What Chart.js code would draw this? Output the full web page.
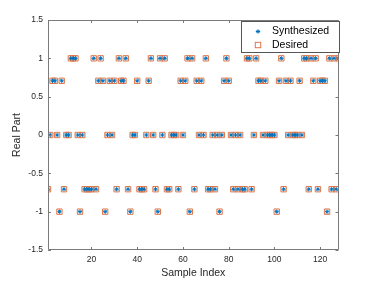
<!DOCTYPE html>
<html>
<head>
<meta charset="utf-8">
<script src="https://cdn.jsdelivr.net/npm/chart.js@4.4.1/dist/chart.umd.min.js"></script>
<style>
  html, body { margin: 0; padding: 0; background: #fff; }
  #wrap { width: 374px; height: 283px; }
</style>
</head>
<body>
<div id="wrap"><canvas id="chart" width="374" height="283"></canvas></div>
<script>
const sampleIndex = [
    1, 2, 3, 4, 5, 6, 7, 8, 9, 10, 11, 12, 13, 14, 15, 16,
    17, 18, 19, 20, 21, 22, 23, 24, 25, 26, 27, 28, 29, 30, 31, 32,
    33, 34, 35, 36, 37, 38, 39, 40, 41, 42, 43, 44, 45, 46, 47, 48,
    49, 50, 51, 52, 53, 54, 55, 56, 57, 58, 59, 60, 61, 62, 63, 64,
    65, 66, 67, 68, 69, 70, 71, 72, 73, 74, 75, 76, 77, 78, 79, 80,
    81, 82, 83, 84, 85, 86, 87, 88, 89, 90, 91, 92, 93, 94, 95, 96,
    97, 98, 99, 100, 101, 102, 103, 104, 105, 106, 107, 108, 109, 110, 111, 112,
    113, 114, 115, 116, 117, 118, 119, 120, 121, 122, 123, 124, 125, 126, 127, 128
];

const desired = [
    -0.7071, 0, 0.7071, 0.7071, 0, -1, 0.7071, -0.7071, 0, 0, 1, 1, 1, 0, -1, 0,
    -0.7071, -0.7071, -0.7071, -0.7071, 1, -0.7071, 0.7071, 1, 0.7071, -1, 0, 0.7071, 0, 0.7071, -0.7071, 1,
    0.7071, 0.7071, 1, -0.7071, -1, 0, 0, 0.7071, -0.7071, -0.7071, -0.7071, 0, 0.7071, 1, 0, -0.7071,
    -1, 1, 0, 1, -0.7071, -0.7071, 0, 0, 0, -0.7071, 0.7071, 0, 0.7071, 1, -1, 1,
    -0.7071, 0.7071, 0, 0.7071, 0, 1, -0.7071, -0.7071, 0, -0.7071, 0, -1, 0, 0.7071, 1, 0.7071,
    0, -0.7071, 0, -0.7071, 0, -0.7071, -0.7071, 1, 1, -0.7071, 0, 1, 0.7071, 0.7071, 0, 0.7071,
    0, 0, 0, 0, -1, 0.7071, 1, -0.7071, 0.7071, 0, 0.7071, 0, 0, 0, 0.7071, 0,
    1, 1, -0.7071, 1, 0.7071, 1, -0.7071, 0.7071, 0.7071, 0.7071, -1, 1, -0.7071, 1, -0.7071, 1
];

// the synthesized samples sit exactly on the desired ones
const synthesized = [
    -0.7071, 0, 0.7071, 0.7071, 0, -1, 0.7071, -0.7071, 0, 0, 1, 1, 1, 0, -1, 0,
    -0.7071, -0.7071, -0.7071, -0.7071, 1, -0.7071, 0.7071, 1, 0.7071, -1, 0, 0.7071, 0, 0.7071, -0.7071, 1,
    0.7071, 0.7071, 1, -0.7071, -1, 0, 0, 0.7071, -0.7071, -0.7071, -0.7071, 0, 0.7071, 1, 0, -0.7071,
    -1, 1, 0, 1, -0.7071, -0.7071, 0, 0, 0, -0.7071, 0.7071, 0, 0.7071, 1, -1, 1,
    -0.7071, 0.7071, 0, 0.7071, 0, 1, -0.7071, -0.7071, 0, -0.7071, 0, -1, 0, 0.7071, 1, 0.7071,
    0, -0.7071, 0, -0.7071, 0, -0.7071, -0.7071, 1, 1, -0.7071, 0, 1, 0.7071, 0.7071, 0, 0.7071,
    0, 0, 0, 0, -1, 0.7071, 1, -0.7071, 0.7071, 0, 0.7071, 0, 0, 0, 0.7071, 0,
    1, 1, -0.7071, 1, 0.7071, 1, -0.7071, 0.7071, 0.7071, 0.7071, -1, 1, -0.7071, 1, -0.7071, 1
];

const xTicks = [20, 40, 60, 80, 100, 120];
const yTicks = [-1.5, -1, -0.5, 0, 0.5, 1, 1.5];
const yTickLabels = ['-1.5', '-1', '-0.5', '0', '0.5', '1', '1.5'];
const seriesNames = ['Synthesized', 'Desired'];
const xTitle = 'Sample Index';
const yTitle = 'Real Part';

const blue = '#0072BD';
const orange = '#E0774A';
const axisGray = '#262626';
const fontFamily = '"Liberation Sans", Arial, Helvetica, sans-serif';

const toPoints = values => values.map((v, i) => ({ x: sampleIndex[i], y: v }));

const matlabFrame = {
    id: 'matlabFrame',
    afterDatasetsDraw(chart) {
        const { ctx, chartArea: a, scales: { x, y } } = chart;
        const tick = 3;
        ctx.save();
        ctx.strokeStyle = '#7a7a7a';
        ctx.lineWidth = 1;
        ctx.beginPath();
        ctx.rect(Math.round(a.left) + 0.5, Math.round(a.top) + 0.5,
            Math.round(a.right - a.left) - 1, Math.round(a.bottom - a.top) - 1);
        xTicks.forEach(v => {
            const px = Math.round(x.getPixelForValue(v)) + 0.5;
            ctx.moveTo(px, a.bottom);
            ctx.lineTo(px, a.bottom - tick);
            ctx.moveTo(px, a.top);
            ctx.lineTo(px, a.top + tick);
        });
        yTicks.forEach(v => {
            const py = Math.round(y.getPixelForValue(v)) + 0.5;
            ctx.moveTo(a.left, py);
            ctx.lineTo(a.left + tick, py);
            ctx.moveTo(a.right, py);
            ctx.lineTo(a.right - tick, py);
        });
        ctx.stroke();
        ctx.restore();
    },
    afterDraw(chart) {
        const { ctx, chartArea: a } = chart;
        ctx.save();
        ctx.fillStyle = axisGray;
        ctx.font = `10.5px ${fontFamily}`;
        ctx.textAlign = 'center';
        ctx.textBaseline = 'middle';
        ctx.fillText(xTitle, (a.left + a.right) / 2, 273);
        ctx.translate(17, (a.top + a.bottom) / 2);
        ctx.rotate(-Math.PI / 2);
        ctx.fillText(yTitle, 0, 0);
        ctx.restore();

        // legend box, top right inside the axes
        const lx = 241.5, ly = 21.5, lw = 98, lh = 31;
        ctx.save();
        ctx.fillStyle = '#fff';
        ctx.fillRect(lx, ly, lw, lh);
        ctx.strokeStyle = '#555';
        ctx.lineWidth = 1;
        ctx.strokeRect(lx, ly, lw, lh);

        const mx = 258, rows = [31.5, 45];
        // asterisk
        ctx.strokeStyle = blue;
        ctx.beginPath();
        const r = 2.2;
        ctx.moveTo(mx - r, rows[0]); ctx.lineTo(mx + r, rows[0]);
        ctx.moveTo(mx, rows[0] - r); ctx.lineTo(mx, rows[0] + r);
        ctx.moveTo(mx - r * 0.7, rows[0] - r * 0.7); ctx.lineTo(mx + r * 0.7, rows[0] + r * 0.7);
        ctx.moveTo(mx - r * 0.7, rows[0] + r * 0.7); ctx.lineTo(mx + r * 0.7, rows[0] - r * 0.7);
        ctx.stroke();
        // square
        ctx.strokeStyle = orange;
        ctx.strokeRect(mx - 2.7, rows[1] - 2.7, 5.4, 5.4);

        ctx.fillStyle = '#000';
        ctx.font = `10.5px ${fontFamily}`;
        ctx.textAlign = 'left';
        ctx.textBaseline = 'middle';
        ctx.fillText(seriesNames[0], 272, rows[0]);
        ctx.fillText(seriesNames[1], 272, rows[1]);
        ctx.restore();
    }
};

new Chart(document.getElementById('chart'), {
    type: 'scatter',
    data: {
        datasets: [
            {
                label: seriesNames[0],
                data: toPoints(synthesized),
                pointStyle: 'star',
                pointRadius: 2.1,
                borderColor: blue,
                backgroundColor: blue,
                pointBorderWidth: 1,
                showLine: false
            },
            {
                label: seriesNames[1],
                data: toPoints(desired),
                pointStyle: 'rect',
                pointRadius: 3.8,
                borderColor: orange,
                backgroundColor: 'rgba(0,0,0,0)',
                pointBorderWidth: 1,
                showLine: false
            }
        ]
    },
    options: {
        responsive: false,
        animation: false,
        events: [],
        layout: { padding: { left: 0, right: 35.5, top: 20, bottom: 0 } },
        plugins: {
            legend: { display: false },
            tooltip: { enabled: false }
        },
        scales: {
            x: {
                type: 'linear',
                min: 1,
                max: 128,
                grid: { display: false, drawTicks: false },
                border: { display: false },
                afterBuildTicks: scale => { scale.ticks = xTicks.map(v => ({ value: v })); },
                afterFit: scale => { scale.height = 33; },
                ticks: {
                    autoSkip: false,
                    maxRotation: 0,
                    padding: 5,
                    color: axisGray,
                    font: { family: fontFamily, size: 8.5 }
                }
            },
            y: {
                type: 'linear',
                min: -1.5,
                max: 1.5,
                grid: { display: false, drawTicks: false },
                border: { display: false },
                afterBuildTicks: scale => { scale.ticks = yTicks.map(v => ({ value: v })); },
                afterFit: scale => { scale.width = 48; },
                ticks: {
                    autoSkip: false,
                    padding: 5,
                    color: axisGray,
                    font: { family: fontFamily, size: 8.5 },
                    callback: value => yTickLabels[yTicks.indexOf(value)]
                }
            }
        }
    },
    plugins: [matlabFrame]
});
</script>
</body>
</html>
